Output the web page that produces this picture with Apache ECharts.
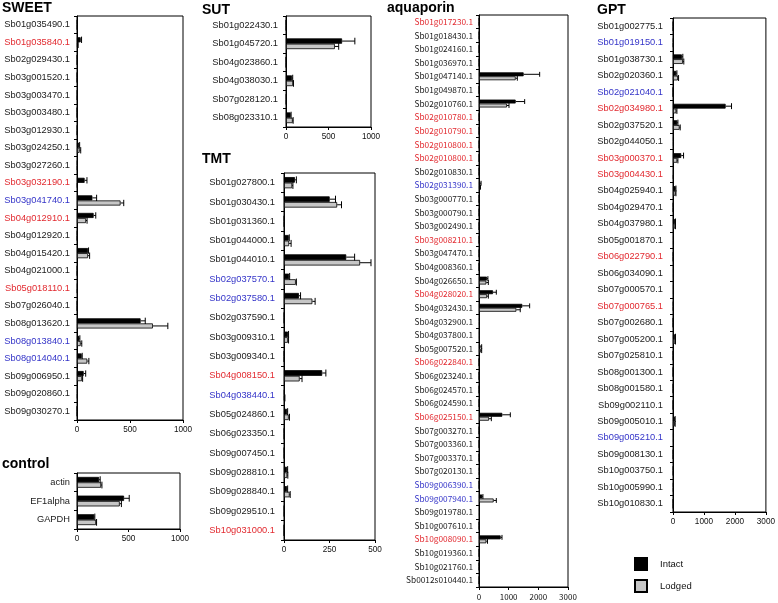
<!DOCTYPE html>
<html><head><meta charset="utf-8">
<script src="https://cdn.jsdelivr.net/npm/echarts/dist/echarts.min.js"></script>
<style>html,body{margin:0;padding:0;background:#fff}#c{width:778px;height:603px}</style>
</head><body><div id="c"></div>
<script>
// ---------- SWEET ----------
const sweetCats = ['Sb01g035490.1','Sb01g035840.1','Sb02g029430.1','Sb03g001520.1','Sb03g003470.1','Sb03g003480.1','Sb03g012930.1','Sb03g024250.1','Sb03g027260.1','Sb03g032190.1','Sb03g041740.1','Sb04g012910.1','Sb04g012920.1','Sb04g015420.1','Sb04g021000.1','Sb05g018110.1','Sb07g026040.1','Sb08g013620.1','Sb08g013840.1','Sb08g014040.1','Sb09g006950.1','Sb09g020860.1','Sb09g030270.1'];
const sweetMarks = ['','r','','','','','','','','r','b','r','','','','r','','','b','b','','',''];
const sweetIntact = [2,35,2,1,3,1,3,20,5,72,145,157,3,104,3,6,2,600,22,44,63,8,1];
const sweetIntactErr = [0,8,0,0,0,0,0,5,0,22,40,20,0,5,0,0,0,44,5,5,19,0,0];
const sweetLodged = [2,8,2,1,2,1,2,25,4,5,411,85,2,104,2,4,2,716,35,97,48,6,1];
const sweetLodgedErr = [0,3,0,0,0,0,0,10,0,0,30,10,0,15,0,0,0,141,10,15,5,0,0];
const sweetTicks = [0,500,1000];

// ---------- control ----------
const controlCats = ['actin','EF1alpha','GAPDH'];
const controlMarks = ['','',''];
const controlIntact = [215,457,168];
const controlIntactErr = [10,50,5];
const controlLodged = [234,415,185];
const controlLodgedErr = [8,16,5];
const controlTicks = [0,500,1000];

// ---------- SUT ----------
const sutCats = ['Sb01g022430.1','Sb01g045720.1','Sb04g023860.1','Sb04g038030.1','Sb07g028120.1','Sb08g023310.1'];
const sutMarks = ['','','','','',''];
const sutIntact = [1,660,1,71,5,55];
const sutIntactErr = [0,150,0,8,0,5];
const sutLodged = [1,575,1,83,3,79];
const sutLodgedErr = [0,45,0,5,0,5];
const sutTicks = [0,500,1000];

// ---------- TMT ----------
const tmtCats = ['Sb01g027800.1','Sb01g030430.1','Sb01g031360.1','Sb01g044000.1','Sb01g044010.1','Sb02g037570.1','Sb02g037580.1','Sb02g037590.1','Sb03g009310.1','Sb03g009340.1','Sb04g008150.1','Sb04g038440.1','Sb05g024860.1','Sb06g023350.1','Sb09g007450.1','Sb09g028810.1','Sb09g028840.1','Sb09g029510.1','Sb10g031000.1'];
const tmtMarks = ['','','','','','b','b','','','','r','b','','','','','','','r'];
const tmtIntact = [60,251,1,26,342,28,82,1,22,1,210,3,17,1,1,17,17,1,0];
const tmtIntactErr = [8,32,0,3,46,3,9,0,3,0,20,0,3,0,0,3,3,0,0];
const tmtLodged = [45,292,1,28,418,65,156,1,22,1,86,3,26,1,1,18,31,1,0];
const tmtLodgedErr = [4,24,0,11,60,3,15,0,3,0,13,2,4,0,0,3,3,0,0];
const tmtTicks = [0,250,500];

// ---------- aquaporin ----------
const aquaCats = ['Sb01g017230.1','Sb01g018430.1','Sb01g024160.1','Sb01g036970.1','Sb01g047140.1','Sb01g049870.1','Sb02g010760.1','Sb02g010780.1','Sb02g010790.1','Sb02g010800.1','Sb02g010800.1','Sb02g010830.1','Sb02g031390.1','Sb03g000770.1','Sb03g000790.1','Sb03g002490.1','Sb03g008210.1','Sb03g047470.1','Sb04g008360.1','Sb04g026650.1','Sb04g028020.1','Sb04g032430.1','Sb04g032900.1','Sb04g037800.1','Sb05g007520.1','Sb06g022840.1','Sb06g023240.1','Sb06g024570.1','Sb06g024590.1','Sb06g025150.1','Sb07g003270.1','Sb07g003360.1','Sb07g003370.1','Sb07g020130.1','Sb09g006390.1','Sb09g007940.1','Sb09g019780.1','Sb10g007610.1','Sb10g008090.1','Sb10g019360.1','Sb10g021760.1','Sb0012s010440.1'];
const aquaMarks = ['r','','','','','','','r','r','r','r','','b','','','','r','','','','r','','','','','r','','','','r','','','','','b','b','','','r','','',''];
const aquaIntact = [10,5,5,5,1505,5,1236,5,5,5,5,5,40,5,5,5,5,5,5,270,472,1460,30,30,50,5,5,5,5,786,5,5,5,20,5,112,30,5,730,5,5,5];
const aquaIntactErr = [0,0,0,0,540,0,303,0,0,0,0,0,30,0,0,0,0,0,0,30,112,247,0,0,40,0,0,0,0,270,0,0,0,0,0,20,0,0,45,0,0,0];
const aquaLodged = [5,5,5,5,1236,5,944,5,5,5,5,5,30,5,5,5,5,5,5,247,270,1260,30,30,60,5,5,5,5,337,5,5,5,20,5,494,30,5,247,5,5,5];
const aquaLodgedErr = [0,0,0,0,56,0,67,0,0,0,0,0,20,0,0,0,0,0,0,67,45,130,0,0,30,0,0,0,0,79,0,0,0,0,0,90,0,0,40,0,0,0];
const aquaTicks = [0,1000,2000,3000];

// ---------- GPT ----------
const gptCats = ['Sb01g002775.1','Sb01g019150.1','Sb01g038730.1','Sb02g020360.1','Sb02g021040.1','Sb02g034980.1','Sb02g037520.1','Sb02g044050.1','Sb03g000370.1','Sb03g004430.1','Sb04g025940.1','Sb04g029470.1','Sb04g037980.1','Sb05g001870.1','Sb06g022790.1','Sb06g034090.1','Sb07g000570.1','Sb07g000765.1','Sb07g002680.1','Sb07g005200.1','Sb07g025810.1','Sb08g001300.1','Sb08g001580.1','Sb09g002110.1','Sb09g005010.1','Sb09g005210.1','Sb09g008130.1','Sb10g003750.1','Sb10g005990.1','Sb10g010830.1'];
const gptMarks = ['','b','','','b','r','','','r','r','','','','','r','','','r','','','','','','','','b','','','',''];
const gptIntact = [5,20,287,106,2,1700,138,30,266,30,85,10,70,30,10,30,30,15,5,70,5,5,5,5,60,30,5,10,20,5];
const gptIntactErr = [0,0,30,20,0,190,20,0,75,0,10,0,10,0,0,0,0,0,0,10,0,0,0,0,10,0,0,0,0,0];
const gptLodged = [5,15,319,160,2,106,213,30,138,20,85,10,70,30,10,30,30,15,5,70,5,5,5,5,60,30,5,10,20,5];
const gptLodgedErr = [0,0,30,20,0,20,20,0,20,0,10,0,10,0,0,0,0,0,0,10,0,0,0,0,10,0,0,0,0,0];
const gptTicks = [0,1000,2000,3000];

const seriesNames = ['Intact','Lodged'];

// ---------- build ----------
const SANS = 'Liberation Sans, Arial, Helvetica, sans-serif';
const JP = '"Noto Sans CJK JP", sans-serif';
const RED = '#e22a30', BLUE = '#3434c8', INK = '#1a1a1a';
function colorOf(m){ return m==='r'?RED:(m==='b'?BLUE:INK); }

const grids=[], xAxes=[], yAxes=[], series=[];
const GAP = 0.42;

function errSeries(k, vals, errs, side){
  return {
    type:'custom', name:'err'+side, xAxisIndex:k, yAxisIndex:k, silent:true, animation:false, z:5,
    data: vals.map((v,i)=>[v,i,errs[i]]),
    encode:{x:0, y:1},
    renderItem:function(params, api){
      const v=api.value(0), i=api.value(1), e=api.value(2);
      if(!(e>0)) return null;
      const band=api.size([0,1])[1];
      const bw=band*(1-GAP)/2;
      const p0=api.coord([v,i]), p1=api.coord([v+e,i]);
      const y=p0[1]+side*bw/2;
      const h=bw*0.62;
      return {type:'group', children:[
        {type:'line', shape:{x1:p0[0],y1:y,x2:p1[0],y2:y}, style:{stroke:'#000',lineWidth:1}},
        {type:'line', shape:{x1:p1[0],y1:y-h,x2:p1[0],y2:y+h}, style:{stroke:'#000',lineWidth:1}}
      ]};
    }
  };
}

function addPanel(p){
  const k=grids.length;
  grids.push({left:p.left, top:p.top, width:p.width, height:p.height, show:true, borderColor:'#000', borderWidth:1, backgroundColor:'rgba(0,0,0,0)', containLabel:false});
  const ticks=p.ticks;
  xAxes.push({type:'value', gridIndex:k, min:ticks[0], max:ticks[ticks.length-1], interval:ticks[1]-ticks[0],
    axisLine:{show:true, onZero:false, lineStyle:{color:'#000',width:1}},
    axisTick:{show:true, length:3, lineStyle:{color:'#000'}},
    splitLine:{show:false},
    axisLabel:{color:'#111', fontSize:p.tickFont, fontFamily:p.font, margin:6, formatter:function(v){return String(v);}}});
  yAxes.push({type:'category', gridIndex:k, inverse:true, data:p.cats,
    axisLine:{show:true, onZero:false, lineStyle:{color:'#000',width:1}},
    axisTick:{show:true, length:3, lineStyle:{color:'#000'}},
    splitLine:{show:false},
    axisLabel:{interval:0, fontSize:p.labelFont, fontFamily:p.font, margin:p.margin,
      color:function(v,i){ return colorOf(p.marks[i]); }}});
  series.push({type:'bar', name:seriesNames[0], xAxisIndex:k, yAxisIndex:k, data:p.iv, barGap:'0%', barCategoryGap:(GAP*100)+'%', animation:false,
    itemStyle:{color:'#000', borderColor:'#000', borderWidth:0.8}});
  series.push({type:'bar', name:seriesNames[1], xAxisIndex:k, yAxisIndex:k, data:p.lv, barGap:'0%', barCategoryGap:(GAP*100)+'%', animation:false,
    itemStyle:{color:'#c6c6c6', borderColor:'#000', borderWidth:0.8}});
  series.push(errSeries(k,p.iv,p.ie,-1));
  series.push(errSeries(k,p.lv,p.le,1));
}

addPanel({left:77, top:16, width:106, height:404, cats:sweetCats, marks:sweetMarks, iv:sweetIntact, ie:sweetIntactErr, lv:sweetLodged, le:sweetLodgedErr, ticks:sweetTicks, font:SANS, labelFont:9.3, tickFont:8.2, margin:7});
addPanel({left:77, top:473, width:103, height:56, cats:controlCats, marks:controlMarks, iv:controlIntact, ie:controlIntactErr, lv:controlLodged, le:controlLodgedErr, ticks:controlTicks, font:SANS, labelFont:9.3, tickFont:8.2, margin:7});
addPanel({left:286, top:16, width:85, height:111, cats:sutCats, marks:sutMarks, iv:sutIntact, ie:sutIntactErr, lv:sutLodged, le:sutLodgedErr, ticks:sutTicks, font:SANS, labelFont:9.3, tickFont:8.2, margin:8});
addPanel({left:284, top:173, width:91, height:367, cats:tmtCats, marks:tmtMarks, iv:tmtIntact, ie:tmtIntactErr, lv:tmtLodged, le:tmtLodgedErr, ticks:tmtTicks, font:SANS, labelFont:9.3, tickFont:8.2, margin:9});
addPanel({left:479, top:15, width:89, height:572, cats:aquaCats, marks:aquaMarks, iv:aquaIntact, ie:aquaIntactErr, lv:aquaLodged, le:aquaLodgedErr, ticks:aquaTicks, font:JP, labelFont:8.3, tickFont:8, margin:6});
addPanel({left:673, top:18, width:94, height:494, cats:gptCats, marks:gptMarks, iv:gptIntact, ie:gptIntactErr, lv:gptLodged, le:gptLodgedErr, ticks:gptTicks, font:SANS, labelFont:9.3, tickFont:8.2, margin:10});

const titleStyle={fontSize:14, fontWeight:'bold', color:'#000', fontFamily:SANS};
const titles=[
  {text:'SWEET', left:0, top:-1},
  {text:'control', left:0, top:455},
  {text:'SUT', left:200, top:1},
  {text:'TMT', left:200, top:150},
  {text:'aquaporin', left:385, top:-1},
  {text:'GPT', left:595, top:1}
].map(t=>Object.assign({padding:2, textStyle:titleStyle}, t));

const chart=echarts.init(document.getElementById('c'), null, {renderer:'canvas'});
chart.setOption({
  animation:false,
  backgroundColor:'#fff',
  title:titles,
  legend:{data:seriesNames.map(n=>({name:n, icon:'rect'})), orient:'vertical', left:634, top:557, padding:0, height:50,
    itemWidth:12, itemHeight:12, itemGap:8,
    textStyle:{fontSize:9.5, fontFamily:SANS, color:'#111', padding:[0,0,0,8]}, selectedMode:false},
  grid:grids, xAxis:xAxes, yAxis:yAxes, series:series
});
</script></body></html>
